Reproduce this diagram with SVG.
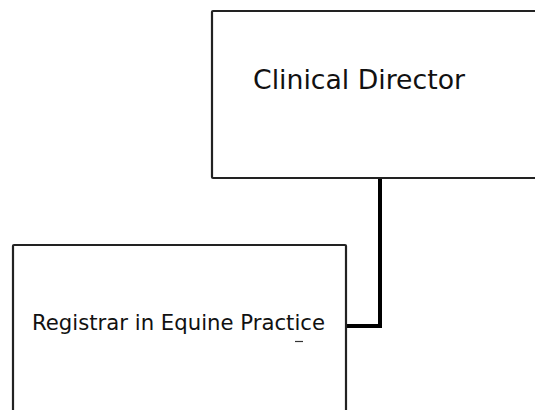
<svg xmlns="http://www.w3.org/2000/svg" width="535" height="410" viewBox="0 0 535 410">
<style>
.box{fill:#fff;stroke:#222;stroke-width:2.2}
.lbl{font-family:"DejaVu Sans",Verdana,sans-serif;fill:#111}
.conn{fill:none;stroke:#000;stroke-width:4}
</style>
<g id="connectors">
<path class="conn" d="M380 178 V326 H346"/>
</g>
<g id="clinical-director">
<rect class="box" x="212" y="11" width="330" height="167" rx="1"/>
<text class="lbl" x="253" y="89" style="font-size:26.5px" textLength="212" lengthAdjust="spacingAndGlyphs">Clinical Director</text>
</g>
<g id="registrar">
<rect class="box" x="13" y="245" width="333" height="180" rx="1"/>
<text class="lbl" x="32" y="330" style="font-size:21px" textLength="293" lengthAdjust="spacingAndGlyphs">Registrar in Equine Practice</text>
<line x1="295" y1="341.5" x2="303" y2="341.5" stroke="#333" stroke-width="1.2"/>
</g>
</svg>
